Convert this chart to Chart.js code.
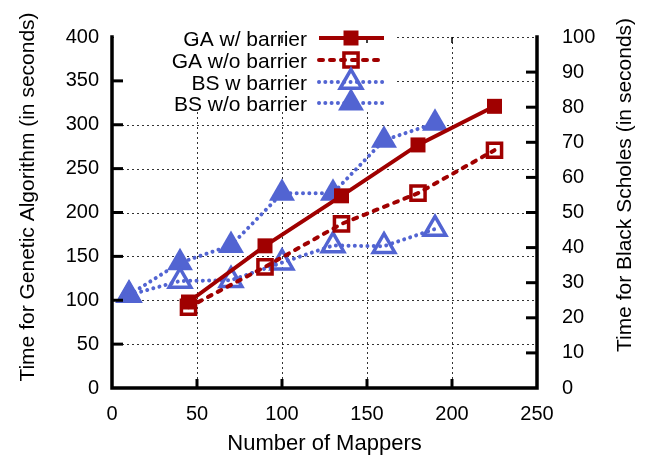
<!DOCTYPE html>
<html>
<head>
<meta charset="utf-8">
<script src="https://cdn.jsdelivr.net/npm/chart.js@4/dist/chart.umd.min.js"></script>
<style>
	html, body { margin: 0; padding: 0; background: #fff; }
	#wrap { width: 649px; height: 456px; }
</style>
</head>
<body>
<div id="wrap"><canvas id="myChart" width="649" height="456"></canvas></div>
<script>
/* data */
const gaMappers = [45, 90, 135, 180, 225];
const gaWithBarrier = [98, 162, 219, 277, 321];
const gaWithoutBarrier = [92, 138, 187, 222, 271];

const bsMappers = [10, 40, 70, 100, 130, 160, 190];
const bsWithBarrier = [26.5, 30.5, 30.7, 35.7, 40.6, 40.4, 45.3];
const bsWithoutBarrier = [26.5, 35.7, 40.6, 55.5, 55.5, 70.6, 75.4];

const xTicks = [0, 50, 100, 150, 200, 250];
const leftTicks = [0, 50, 100, 150, 200, 250, 300, 350, 400];
const rightTicks = [0, 10, 20, 30, 40, 50, 60, 70, 80, 90, 100];

const RED = '#a00000';
const BLUE = '#5264d2';
const FONT = '"Liberation Sans", Arial, Helvetica, sans-serif';

function pts(xs, ys) {
	return xs.map((x, i) => ({ x: x, y: ys[i] }));
}

/* grid, frame, inward ticks, legend box and axis titles */
const framePlugin = {
	id: 'frame',
	beforeDatasetsDraw(chart) {
		const ctx = chart.ctx;
		const a = chart.chartArea;
		const x = chart.scales.x, y = chart.scales.y;
		ctx.save();
		ctx.strokeStyle = '#333';
		ctx.lineWidth = 1;
		ctx.setLineDash([2, 3]);
		leftTicks.slice(1).forEach(v => {
			const py = Math.round(y.getPixelForValue(v)) + 0.5;
			ctx.beginPath();
			ctx.moveTo(a.left, py);
			ctx.lineTo(a.right, py);
			ctx.stroke();
		});
		xTicks.slice(1, -1).forEach(v => {
			const px = Math.round(x.getPixelForValue(v)) + 0.5;
			ctx.beginPath();
			ctx.moveTo(px, a.top);
			ctx.lineTo(px, a.bottom);
			ctx.stroke();
		});
		ctx.restore();
	},
	afterDatasetsDraw(chart) {
		const ctx = chart.ctx;
		const a = chart.chartArea;
		const x = chart.scales.x, y = chart.scales.y, y1 = chart.scales.y1;
		ctx.save();
		ctx.setLineDash([]);

		// legend box hides the grid behind it
		ctx.fillStyle = '#fff';
		ctx.fillRect(a.left + 2, 21, 392 - a.left, 90);

		ctx.strokeStyle = '#000';
		// ticks
		ctx.lineWidth = 3;
		leftTicks.slice(1, -1).forEach(v => {
			const py = y.getPixelForValue(v);
			ctx.beginPath(); ctx.moveTo(a.left, py); ctx.lineTo(a.left + 11, py); ctx.stroke();
		});
		rightTicks.slice(1, -1).forEach(v => {
			const py = y1.getPixelForValue(v);
			ctx.beginPath(); ctx.moveTo(a.right, py); ctx.lineTo(a.right - 11, py); ctx.stroke();
		});
		xTicks.slice(1, -1).forEach(v => {
			const px = x.getPixelForValue(v);
			ctx.beginPath(); ctx.moveTo(px, a.bottom); ctx.lineTo(px, a.bottom - 9); ctx.stroke();
		});
		ctx.lineWidth = 1.5;
		xTicks.slice(1, -1).forEach(v => {
			const px = x.getPixelForValue(v);
			ctx.beginPath(); ctx.moveTo(px, a.top); ctx.lineTo(px, a.top + 6); ctx.stroke();
		});

		// border: left, bottom, right (no top)
		ctx.lineWidth = 3.5;
		ctx.lineCap = 'square';
		ctx.beginPath();
		ctx.moveTo(a.left, a.top);
		ctx.lineTo(a.left, a.bottom);
		ctx.lineTo(a.right, a.bottom);
		ctx.lineTo(a.right, a.top);
		ctx.stroke();

		// legend entries
		const rows = [38, 60, 82, 103];
		chart.data.datasets.forEach((ds, i) => {
			const ry = rows[i];
			ctx.fillStyle = '#000';
			ctx.font = '21px ' + FONT;
			ctx.textAlign = 'right';
			ctx.textBaseline = 'alphabetic';
			ctx.fillText(ds.label, 307, ry + 7.5);

			ctx.strokeStyle = ds.borderColor;
			ctx.lineWidth = ds.borderWidth;
			ctx.lineCap = ds.borderCapStyle || 'butt';
			ctx.setLineDash(ds.borderDash || []);
			ctx.beginPath();
			ctx.moveTo(319, ry);
			ctx.lineTo(384, ry);
			ctx.stroke();

			ctx.setLineDash([]);
			ctx.fillStyle = ds.pointBackgroundColor;
			ctx.strokeStyle = ds.pointBorderColor;
			ctx.lineWidth = ds.pointBorderWidth;
			Chart.helpers.drawPoint(ctx, {
				pointStyle: ds.pointStyle,
				radius: ds.pointRadius,
				rotation: 0,
				borderWidth: ds.pointBorderWidth
			}, 351, ry);
		});

		// axis titles
		ctx.fillStyle = '#000';
		ctx.textAlign = 'center';
		ctx.textBaseline = 'alphabetic';
		ctx.font = '22px ' + FONT;
		ctx.fillText('Number of Mappers', (a.left + a.right) / 2, 450);

		ctx.font = '21px ' + FONT;
		ctx.save();
		ctx.translate(33.5, 197);
		ctx.rotate(-Math.PI / 2);
		ctx.fillText('Time for Genetic Algorithm (in seconds)', 0, 0);
		ctx.restore();

		ctx.save();
		ctx.translate(630.5, 185);
		ctx.rotate(-Math.PI / 2);
		ctx.fillText('Time for Black Scholes (in seconds)', 0, 0);
		ctx.restore();

		ctx.restore();
	}
};

const ctx = document.getElementById('myChart');

new Chart(ctx, {
	type: 'line',
	data: {
		datasets: [
			{
				label: 'GA w/ barrier',
				data: pts(gaMappers, gaWithBarrier),
				yAxisID: 'y',
				borderColor: RED,
				borderWidth: 4,
				pointStyle: 'rect',
				pointRadius: 10.6,
				pointBackgroundColor: RED,
				pointBorderColor: RED,
				pointBorderWidth: 0
			},
			{
				label: 'GA w/o barrier',
				data: pts(gaMappers, gaWithoutBarrier),
				yAxisID: 'y',
				borderColor: RED,
				borderWidth: 4,
				borderDash: [4, 7],
				borderCapStyle: 'round',
				pointStyle: 'rect',
				pointRadius: 10,
				pointBackgroundColor: 'rgba(0,0,0,0)',
				pointBorderColor: RED,
				pointBorderWidth: 3.5
			},
			{
				label: 'BS w barrier',
				data: pts(bsMappers, bsWithBarrier),
				yAxisID: 'y1',
				borderColor: BLUE,
				borderWidth: 4,
				borderDash: [0.01, 6.3],
				borderCapStyle: 'round',
				pointStyle: 'triangle',
				pointRadius: 12.5,
				pointBackgroundColor: 'rgba(0,0,0,0)',
				pointBorderColor: BLUE,
				pointBorderWidth: 3.5
			},
			{
				label: 'BS w/o barrier',
				data: pts(bsMappers, bsWithoutBarrier),
				yAxisID: 'y1',
				borderColor: BLUE,
				borderWidth: 4,
				borderDash: [0.01, 6.3],
				borderCapStyle: 'round',
				pointStyle: 'triangle',
				pointRadius: 15,
				pointBackgroundColor: BLUE,
				pointBorderColor: BLUE,
				pointBorderWidth: 0
			}
		]
	},
	options: {
		responsive: false,
		animation: false,
		events: [],
		clip: false,
		layout: { padding: { top: 16, left: 0, right: 0, bottom: 0 } },
		plugins: {
			legend: { display: false },
			tooltip: { enabled: false }
		},
		elements: { line: { tension: 0 } },
		scales: {
			x: {
				type: 'linear',
				min: 0,
				max: 250,
				afterBuildTicks: s => { s.ticks = xTicks.map(v => ({ value: v })); },
				afterFit: s => { s.height = 68; },
				grid: { display: false, drawTicks: false },
				border: { display: false },
				ticks: { padding: 14, color: '#000', font: { family: FONT, size: 20 } },
				title: { display: false }
			},
			y: {
				position: 'left',
				min: 0,
				max: 400,
				afterBuildTicks: s => { s.ticks = leftTicks.map(v => ({ value: v })); },
				afterFit: s => { s.width = 112; },
				grid: { display: false, drawTicks: false },
				border: { display: false },
				ticks: { padding: 13, color: '#000', font: { family: FONT, size: 20 } },
				title: { display: false }
			},
			y1: {
				position: 'right',
				min: 0,
				max: 100,
				afterBuildTicks: s => { s.ticks = rightTicks.map(v => ({ value: v })); },
				afterFit: s => { s.width = 112; },
				grid: { display: false, drawTicks: false },
				border: { display: false },
				ticks: { padding: 25, color: '#000', font: { family: FONT, size: 20 } },
				title: { display: false }
			}
		}
	},
	plugins: [framePlugin]
});
</script>
</body>
</html>
